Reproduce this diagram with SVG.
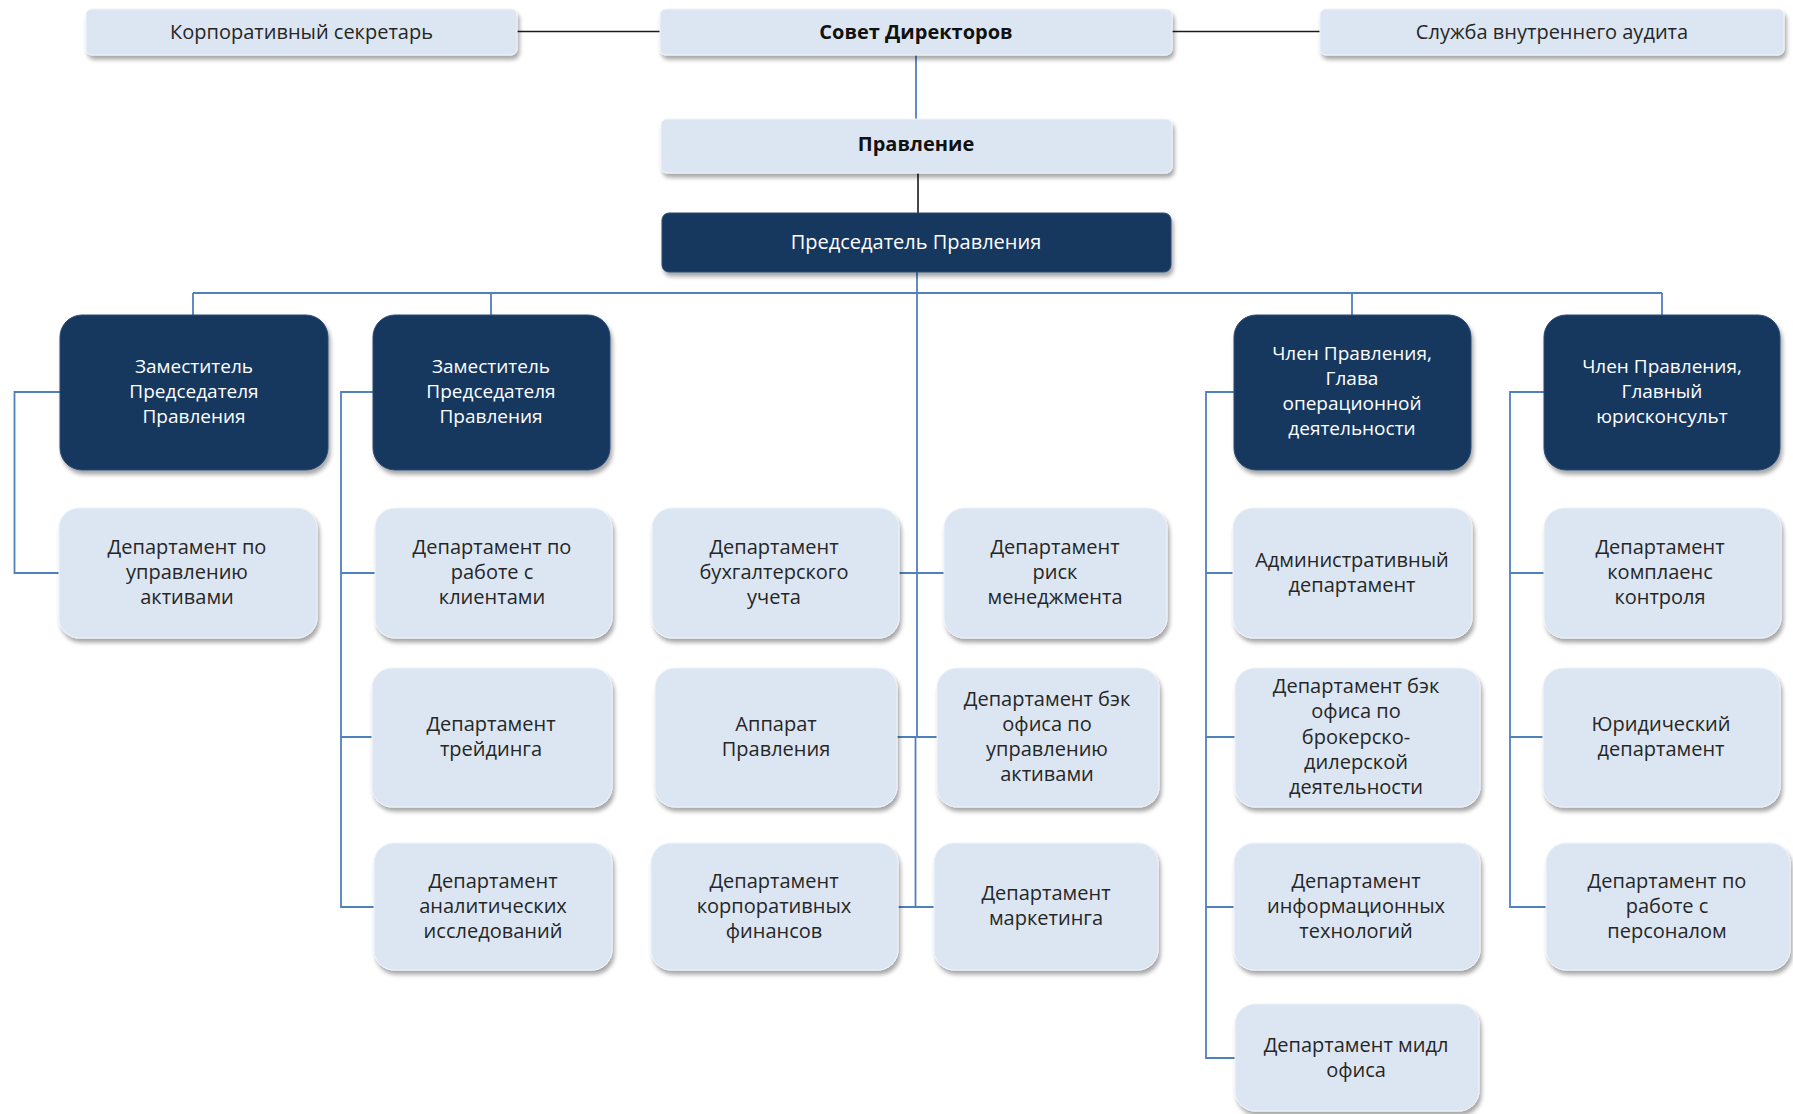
<svg xmlns="http://www.w3.org/2000/svg" width="1793" height="1114" viewBox="0 0 1793 1114">
<defs>
<filter id="sh" x="-10%" y="-10%" width="125%" height="135%">
<feDropShadow dx="2" dy="4" stdDeviation="2" flood-color="#000" flood-opacity="0.35"/>
</filter>
<style>
.lt{fill:#DCE6F2;stroke:#EEF3FA;stroke-width:1;filter:url(#sh)}
.dk{fill:#17375E;stroke:#2A4A72;stroke-width:1;filter:url(#sh)}
text{font-family:"Open Sans","Noto Sans","DejaVu Sans",sans-serif;text-anchor:middle}
.t{font-size:20px;fill:#262626}
.tt{font-size:20px;fill:#262626}
.tb{font-size:20px;fill:#111;font-weight:bold}
.w{font-size:19px;fill:#fff}
.w20{font-size:20px;fill:#fff}
.bl{fill:none;stroke:#4F81BD;stroke-width:1.8}
.bk{fill:none;stroke:#1a1a1a;stroke-width:1.6}
</style>
</defs>
<rect width="1793" height="1114" fill="#fff"/>
<g id="connectors">
<path class="bk" d="M517,31.5 H660 M1172,31.5 H1320 M918,173 V213"/>
<path class="bl" d="M916,55 V119"/>
<path class="bl" d="M917,272 V737"/>
<path class="bl" d="M193,293 H1662 M193,293 V315 M491,293 V315 M1352,293 V315 M1662,293 V315"/>
<path class="bl" d="M60,392 H14.5 V573 H59"/>
<path class="bl" d="M373,392 H341 V907 H374 M341,573 H375 M341,737 H372"/>
<path class="bl" d="M898,573 H944 M896,737 H937 M915.5,737 V907 M898,907 H934"/>
<path class="bl" d="M1234,392 H1206 V1058 H1235 M1206,573 H1233 M1206,737 H1235 M1206,907 H1234"/>
<path class="bl" d="M1544,392 H1510 V907 H1546 M1510,573 H1544 M1510,737 H1543"/>
</g>
<g id="corp-secretary"><rect class="lt" x="86" y="9" width="431" height="46" rx="6"/><text class="tt" x="301.5" y="39">Корпоративный секретарь</text></g>
<g id="board"><rect class="lt" x="660" y="9" width="512" height="46" rx="6"/><text class="tb" x="916" y="39">Совет Директоров</text></g>
<g id="audit"><rect class="lt" x="1320" y="9" width="464" height="46" rx="6"/><text class="tt" x="1552" y="39">Служба внутреннего аудита</text></g>
<g id="management-board"><rect class="lt" x="661" y="119" width="511" height="54" rx="6"/><text class="tb" x="916" y="151">Правление</text></g>
<g id="chairman"><rect class="dk" x="662" y="213" width="509" height="59" rx="7"/><text class="w20" x="916" y="248.5">Председатель Правления</text></g>

<g id="deputy1"><rect class="dk" x="60" y="315" width="268" height="155" rx="22"/><text class="w" x="194" y="373">Заместитель</text><text class="w" x="194" y="398">Председателя</text><text class="w" x="194" y="423">Правления</text></g>
<g id="deputy2"><rect class="dk" x="373" y="315" width="237" height="155" rx="22"/><text class="w" x="491" y="373">Заместитель</text><text class="w" x="491" y="398">Председателя</text><text class="w" x="491" y="423">Правления</text></g>
<g id="member-ops"><rect class="dk" x="1234" y="315" width="237" height="155" rx="22"/><text class="w" x="1352" y="360">Член Правления,</text><text class="w" x="1352" y="385">Глава</text><text class="w" x="1352" y="410">операционной</text><text class="w" x="1352" y="435">деятельности</text></g>
<g id="member-legal"><rect class="dk" x="1544" y="315" width="236" height="155" rx="22"/><text class="w" x="1662" y="373">Член Правления,</text><text class="w" x="1662" y="398">Главный</text><text class="w" x="1662" y="423">юрисконсульт</text></g>

<g id="dept-assets"><rect class="lt" x="59" y="508" width="258" height="130" rx="20"/><text class="t" x="187" y="554">Департамент по</text><text class="t" x="187" y="579">управлению</text><text class="t" x="187" y="604">активами</text></g>
<g id="dept-clients"><rect class="lt" x="375" y="508" width="237" height="130" rx="20"/><text class="t" x="492" y="554">Департамент по</text><text class="t" x="492" y="579">работе с</text><text class="t" x="492" y="604">клиентами</text></g>
<g id="dept-accounting"><rect class="lt" x="652" y="508" width="247" height="130" rx="20"/><text class="t" x="774" y="554">Департамент</text><text class="t" x="774" y="579">бухгалтерского</text><text class="t" x="774" y="604">учета</text></g>
<g id="dept-risk"><rect class="lt" x="944" y="508" width="223" height="130" rx="20"/><text class="t" x="1055" y="554">Департамент</text><text class="t" x="1055" y="579">риск</text><text class="t" x="1055" y="604">менеджмента</text></g>
<g id="dept-admin"><rect class="lt" x="1233" y="508" width="239" height="130" rx="20"/><text class="t" x="1352" y="566.5">Административный</text><text class="t" x="1352" y="591.5">департамент</text></g>
<g id="dept-compliance"><rect class="lt" x="1544" y="508" width="237" height="130" rx="20"/><text class="t" x="1660" y="554">Департамент</text><text class="t" x="1660" y="579">комплаенс</text><text class="t" x="1660" y="604">контроля</text></g>

<g id="dept-trading"><rect class="lt" x="372" y="668" width="240" height="139" rx="20"/><text class="t" x="491" y="731">Департамент</text><text class="t" x="491" y="756">трейдинга</text></g>
<g id="apparat"><rect class="lt" x="655" y="668" width="242" height="139" rx="20"/><text class="t" x="776" y="731">Аппарат</text><text class="t" x="776" y="756">Правления</text></g>
<g id="dept-backoffice-am"><rect class="lt" x="937" y="668" width="222" height="139" rx="20"/><text class="t" x="1047" y="706">Департамент бэк</text><text class="t" x="1047" y="731">офиса по</text><text class="t" x="1047" y="756">управлению</text><text class="t" x="1047" y="781">активами</text></g>
<g id="dept-backoffice-broker"><rect class="lt" x="1235" y="668" width="245" height="139" rx="20"/><text class="t" x="1356" y="693">Департамент бэк</text><text class="t" x="1356" y="718">офиса по</text><text class="t" x="1356" y="743.5">брокерско-</text><text class="t" x="1356" y="768.5">дилерской</text><text class="t" x="1356" y="794">деятельности</text></g>
<g id="dept-legal"><rect class="lt" x="1543" y="668" width="237" height="139" rx="20"/><text class="t" x="1661" y="731">Юридический</text><text class="t" x="1661" y="756">департамент</text></g>

<g id="dept-analytics"><rect class="lt" x="374" y="843" width="238" height="127" rx="20"/><text class="t" x="493" y="887.5">Департамент</text><text class="t" x="493" y="912.5">аналитических</text><text class="t" x="493" y="937.5">исследований</text></g>
<g id="dept-corpfin"><rect class="lt" x="651" y="843" width="247" height="127" rx="20"/><text class="t" x="774" y="887.5">Департамент</text><text class="t" x="774" y="912.5">корпоративных</text><text class="t" x="774" y="937.5">финансов</text></g>
<g id="dept-marketing"><rect class="lt" x="934" y="843" width="224" height="127" rx="20"/><text class="t" x="1046" y="900">Департамент</text><text class="t" x="1046" y="925">маркетинга</text></g>
<g id="dept-it"><rect class="lt" x="1234" y="843" width="246" height="127" rx="20"/><text class="t" x="1356" y="887.5">Департамент</text><text class="t" x="1356" y="912.5">информационных</text><text class="t" x="1356" y="937.5">технологий</text></g>
<g id="dept-hr"><rect class="lt" x="1546" y="843" width="244" height="127" rx="20"/><text class="t" x="1667" y="887.5">Департамент по</text><text class="t" x="1667" y="912.5">работе с</text><text class="t" x="1667" y="937.5">персоналом</text></g>

<g id="dept-middle-office"><rect class="lt" x="1235" y="1004" width="244" height="107" rx="20"/><text class="t" x="1356" y="1052">Департамент мидл</text><text class="t" x="1356" y="1077">офиса</text></g>
</svg>
